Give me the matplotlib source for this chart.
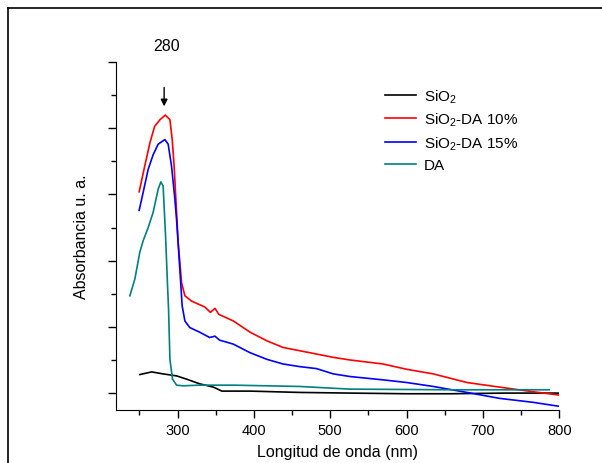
import matplotlib
matplotlib.use("Agg")
import matplotlib.pyplot as plt
from matplotlib.lines import Line2D
from matplotlib.ticker import MultipleLocator

plt.rcParams['font.family'] = ['Liberation Sans', 'DejaVu Sans']
plt.rcParams['mathtext.default'] = 'regular'

# SiO2
wl_sio2 = [250.6, 266, 281, 298.7, 312, 329, 347, 358, 395, 460, 526, 600, 657, 730, 800]
ab_sio2 = [0.28, 0.32, 0.29, 0.26, 0.21, 0.14, 0.09, 0.03, 0.03, 0.01, 0.0, -0.01, -0.01, 0.0, 0.0]

# SiO2-DA 10%
wl_10 = [249.7, 257, 264, 270, 277, 284, 290, 293, 295.5, 297.8, 300.8, 305.2, 309.6,
         318.3, 335.8, 343, 349, 354, 373, 395, 417, 438, 460, 482, 504, 526,
         569, 600, 635, 679, 722, 766, 800]
ab_10 = [3.04, 3.43, 3.79, 4.03, 4.13, 4.20, 4.13, 3.83, 3.43, 2.93, 2.28, 1.67, 1.47,
         1.39, 1.30, 1.22, 1.28, 1.19, 1.09, 0.92, 0.79, 0.69, 0.64, 0.59, 0.54, 0.50,
         0.44, 0.36, 0.29, 0.16, 0.09, 0.02, -0.03]

# SiO2-DA 15%
wl_15 = [249.7, 254.9, 261.5, 268, 274.6, 283.4, 287.7, 292.1, 296.5, 298.7, 303, 306,
         309.6, 316, 329, 342, 349, 355, 373, 395, 417, 438, 460, 482, 504, 526,
         569, 600, 635, 679, 722, 766, 800]
ab_15 = [2.76, 3.03, 3.38, 3.60, 3.76, 3.83, 3.76, 3.43, 2.93, 2.62, 1.87, 1.32,
         1.09, 0.99, 0.92, 0.84, 0.86, 0.80, 0.74, 0.61, 0.51, 0.44, 0.40, 0.37, 0.29, 0.25,
         0.20, 0.16, 0.10, 0.01, -0.08, -0.14, -0.20]

# DA
wl_da = [237.5, 244, 250.6, 254.9, 261.5, 268, 274.6, 278.1, 281.1, 284.3, 286.9, 288.2,
         290, 293.4, 298.7, 307, 329, 373, 417, 460, 526, 657, 787]
ab_da = [1.47, 1.72, 2.13, 2.30, 2.50, 2.73, 3.08, 3.19, 3.13, 2.37, 1.62, 1.27,
         0.51, 0.21, 0.12, 0.11, 0.12, 0.12, 0.11, 0.10, 0.06, 0.05, 0.05]

fig = plt.figure(figsize=(6.02, 4.64), dpi=100)
ax = fig.add_axes([0.1935, 0.115, 0.7355, 0.749])

ax.plot(wl_sio2, ab_sio2, color='black', lw=1.2, label='SiO$_2$')
ax.plot(wl_10, ab_10, color='#ff0000', lw=1.2, label='SiO$_2$-DA 10%')
ax.plot(wl_15, ab_15, color='#0000ff', lw=1.2, label='SiO$_2$-DA 15%')
ax.plot(wl_da, ab_da, color='#008080', lw=1.2, label='DA')

ax.set_xlim(220, 800)
ax.set_ylim(-0.25, 5.0)
ax.xaxis.set_major_locator(MultipleLocator(100))
ax.xaxis.set_minor_locator(MultipleLocator(50))
ax.yaxis.set_major_locator(MultipleLocator(1))
ax.yaxis.set_minor_locator(MultipleLocator(0.5))
ax.set_yticklabels([])
ax.tick_params(which='major', direction='out', length=6, width=1, labelsize=10.5)
ax.tick_params(which='minor', direction='out', length=3.5, width=1)
ax.spines['top'].set_visible(False)
ax.spines['right'].set_visible(False)

ax.set_xlabel('Longitud de onda (nm)', fontsize=11.5, labelpad=5)
ax.set_ylabel('Absorbancia u. a.', fontsize=11.5, labelpad=10)

ax.annotate('', xy=(282.4, 4.29), xytext=(282.4, 4.66),
            arrowprops=dict(arrowstyle='-|>', color='black', lw=1, mutation_scale=10))
ax.text(285.6, 5.25, '280', ha='center', va='center', fontsize=11.5, clip_on=False)

ax.legend(loc='upper left', bbox_to_anchor=(0.593, 0.945), frameon=False, fontsize=11,
          handlelength=2.0, handletextpad=0.55, labelspacing=0.4, borderaxespad=0)

# outer frame lines (left and top)
fig.add_artist(Line2D([8 / 602, 8 / 602], [0, 1 - 9 / 464], color='black', lw=1.2,
                      transform=fig.transFigure))
fig.add_artist(Line2D([8 / 602, 1], [1 - 9 / 464, 1 - 9 / 464], color='black', lw=1.2,
                      transform=fig.transFigure))

fig.savefig('out.png', dpi=100)
